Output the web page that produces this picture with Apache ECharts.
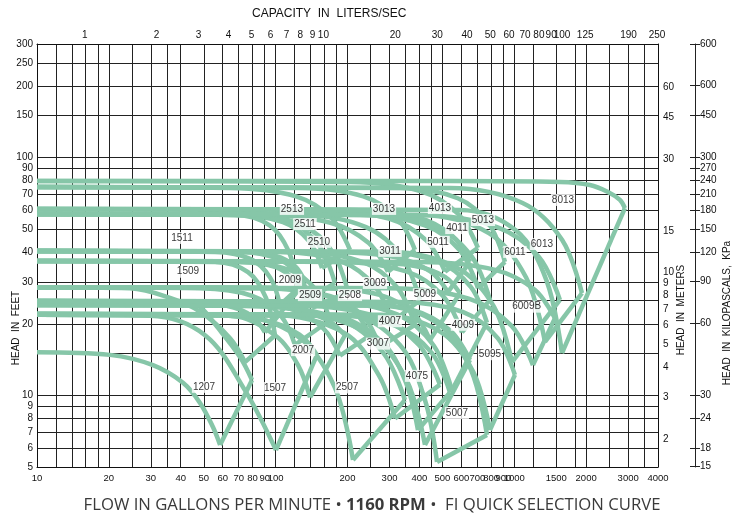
<!DOCTYPE html>
<html><head><meta charset="utf-8">
<script src="https://cdn.jsdelivr.net/npm/echarts@6/dist/echarts.min.js"></script>
<style>html,body{margin:0;padding:0;background:#fff}#c{width:735px;height:519px}</style>
</head><body><div id="c"></div>
<script>
// ---- axis ticks / grid values ----
const gpmTicks = [10,20,30,40,50,60,70,80,90,100,200,300,400,500,600,700,800,900,1000,1500,2000,3000,4000];
const gpmGrid = [10,12,14,16,18,20,25,30,35,40,50,60,70,80,90,100,120,140,160,180,200,250,300,350,400,450,500,600,700,800,900,1000,1200,1500,1800,2000,2500,3000,3500,4000];
const lpsTicks = [1,2,3,4,5,6,7,8,9,10,20,30,40,50,60,70,80,90,100,125,190,250];
const feetTicks = [5,6,7,8,9,10,20,30,40,50,60,70,80,90,100,150,200,250,300];
const feetGrid = [5,6,7,8,9,10,15,20,25,30,40,50,60,70,80,90,100,150,200,250,300];
const meterTicks = [2,3,4,5,6,7,8,9,10,15,30,45,60];
const kpaTicks = [15,18,24,30,60,90,120,150,180,210,240,270,300,450,600,897];
const kpaText = ['15','18','24','30','60','90','120','150','180','210','240','270','300','450','600','600'];

// ---- pump curves [gpm, ft]: max impeller and min impeller ----
const c2513max = [[10,75.1],[64.4,74.4],[121.7,68.6],[172.2,55.4],[204.8,40.9]];
const c2513min = [[10,57.9],[67.6,57.3],[107.3,53.5],[138,44.6],[156.4,34.3]];
const c3013max = [[10,75.1],[126.5,74.4],[233,68.6],[325,55.4],[383.5,40.9]];
const c3013min = [[10,57.9],[86,57.3],[169.6,53.2],[245.6,43.7],[295.6,33.1]];
const c4013max = [[10,79.6],[204.8,78.9],[404,72.3],[585,57.6],[704,41.7]];
const c4013min = [[10,60.8],[153.4,60.2],[297.9,55.4],[427.7,44.8],[512.2,33.1]];
const c5013max = [[10,75.1],[331.8,74.4],[579.6,67.4],[785.4,52.3],[913.7,36.4]];
const c5013min = [[10,57.9],[225.6,57.3],[422,51.9],[593.7,40.5],[704.4,28.2]];
const c6013max = [[10,75.1],[537.5,74.4],[1083,64.4],[1587,45],[1921,26.9]];
const c6013min = [[10,57.9],[402.4,57.3],[781.7,48.1],[1122,31.2],[1344,16.8]];
const c8013max = [[10,79.6],[537,79.6],[1553,78.9],[2074,76.6],[2468,71.6],[2770,66.3],[2907,61.3]];
const c8013min = [[10,60.8],[591.9,60.2],[1017,49.3],[1366,30.3],[1584,15.05]];
const c1511max = [[10,57.9],[67.6,57.3],[94.4,51.9],[113.2,40.5],[124.1,28.2]];
const c1511min = [[10,40.5],[55.7,40.1],[78.7,37.4],[95,31.2],[104.3,24]];
const c2511max = [[10,60.8],[64.4,60.2],[112.4,54.5],[152.3,42.5],[177.2,29.7]];
const c2511min = [[10,36.7],[70.9,36.4],[100.1,34.6],[120.9,30.1],[132.7,24.7]];
const c2510max = [[10,57.9],[78.1,57.3],[131.3,51.6],[174.4,39.7],[201,27.2]];
const c2510min = [[10,40.5],[70.9,40.1],[103.9,37.2],[127.9,30.8],[142,23.3]];
const c3011max = [[10,57.9],[126.5,57.3],[239,51],[338.2,38.2],[402.4,25.2]];
const c3011min = [[10,40.5],[104.3,40.1],[188.9,36.5],[261.2,28.7],[307.5,20.3]];
const c4011max = [[10,60.8],[204.8,60.2],[387.3,56.2],[548,47],[651.9,36.4]];
const c4011min = [[10,40.5],[168.9,40.1],[315.9,38.2],[444.5,33.2],[527.3,27.2]];
const c5011max = [[10,57.9],[248.4,57.3],[469.7,51],[664.7,38.2],[790.6,25.2]];
const c5011min = [[10,36.7],[186,36.4],[355.3,33.1],[506,26],[603.6,18.4]];
const c6011max = [[10,57.9],[402.4,57.3],[845.9,51],[1268,38.2],[1553,25.2]];
const c6011min = [[10,40.5],[301.3,40.1],[575.6,34.4],[819.5,23.7],[977.7,13.8]];
const c1509max = [[10,36.7],[55.7,36.4],[76.6,33],[91.1,25.7],[99.4,17.9]];
const c1509min = [[10,28.5],[24.5,28.2],[36.1,25.7],[48.2,22.5],[64.4,17.4],[74.4,13.8]];
const c2009max = [[10,40.5],[70.9,40.1],[100.1,38.6],[120.9,34.8],[132.7,30]];
const c2009min = [[10,24.95],[39.7,24.7],[62.4,23.8],[79.8,21.5],[90.2,18.4]];
const c2509max = [[10,36.7],[70.9,36.4],[114.3,33.7],[148.3,27.6],[168.9,20.7]];
const c2509min = [[10,28.5],[48.2,28.2],[79.8,26.2],[105.1,21.6],[120.5,16.3]];
const c2508max = [[10,28.5],[86,28.2],[154.1,26.6],[211.9,22.7],[248.4,17.9]];
const c2508min = [[10,24.95],[64.4,24.7],[115.4,23.1],[158.6,19.1],[186,14.7]];
const c3009max = [[10,40.5],[126.5,40.1],[233,36.3],[325,28.2],[383.5,19.8]];
const c3009min = [[10,28.5],[94.7,28.2],[169.7,26.1],[233.4,21.4],[273.6,16]];
const c4009max = [[10,40.5],[273.6,40.1],[483,36.4],[658.3,28.5],[768,20.2]];
const c4009min = [[10,24.95],[168.9,24.7],[322.7,21.9],[459.3,16.2],[548,10.5]];
const c5009max = [[10,36.7],[225.6,36.4],[383.5,35],[512.2,31.5],[591.9,26.9]];
const c5009min = [[10,28.5],[153.4,28.2],[275,26.4],[378,22.1],[443.2,17.1]];
const c6009Bmax = [[10,36.7],[402.4,36.4],[824,33.8],[1218,27.8],[1480,21.1]];
const c6009Bmin = [[10,28.5],[301.3,28.2],[644,25.5],[974,19.6],[1197,13.4]];
const c1207max = [[10,24.5],[43.8,24.2],[48.2,23.6],[56.9,19.4],[70.9,14.5],[79.6,11.6]];
const c1207min = [[10,15.2],[20.2,14.8],[30.6,13.4],[40.9,11.3],[48.2,9.3],[54.6,7.36],[58.5,6.19]];
const c1507max = [[10,22.0],[48.2,21.8],[89.7,20.7],[125.9,18],[149,14.8]];
const c1507min = [[10,21.8],[29.8,21.6],[50.6,17.9],[74.4,10.5],[100.3,5.89]];
const c2007max = [[10,24],[64.4,23.8],[118.5,23],[165.3,20.7],[195.2,17.9]];
const c2007min = [[10,21.8],[64.4,21.6],[99.4,17.9],[124.1,13.4],[139.3,9.8]];
const c2507max = [[10,24],[86,23.8],[185.6,20.9],[282.5,15.1],[348.2,9.56]];
const c2507min = [[10,22],[64.4,21.8],[123.7,17.7],[176.5,10.86],[210.9,5.35]];
const c3007max = [[10,24],[126.5,23.8],[265.8,21.4],[398.6,16.3],[488.1,11.1]];
const c3007min = [[10,22],[94.7,21.8],[193.9,18.3],[270,12.2],[316.2,8.0]];
const c4007max = [[10,24.95],[186,24.7],[370.7,22.9],[540,18.7],[651.9,14.1]];
const c4007min = [[10,22],[126.5,21.8],[245.6,18.1],[352.6,11.7],[422.3,6.19]];
const c4075max = [[10,22],[168.9,21.8],[319.3,19.6],[451.9,15.05],[537.5,10.3]];
const c4075min = [[10,21.8],[168.9,21.6],[273.6,17.1],[348.2,11.6],[394.7,7.15]];
const c5007max = [[10,24],[273.6,23.8],[483,19.9],[658.3,12.8],[768,6.82]];
const c5007min = [[10,21.8],[204.8,21.6],[331.8,16.3],[422.3,9.56],[474.3,5.25]];
const c5095max = [[10,24.95],[331.8,24.7],[611,22.4],[852,17.4],[1006,12.2]];
const c5095min = [[10,22],[273.6,21.8],[490.5,18.5],[674.3,12.5],[790.6,7.15]];

// ---- curve labels ----
const labelNames = ['1511','1509','2513','2511','2510','2009','2509','2508','3013','3011','3009','4007','3007','2007','1207','1507','2507','4075','5007','4009','5095','6009B','5009','5011','4013','4011','5013','6011','6013','8013'];
const labelGpm = [40.5,42.9,117,132.7,151.9,114.8,139.3,204.8,284.4,301.3,260.7,301.3,268.4,130.2,50.1,99.4,199.3,391,575,609,790.6,1127,422.3,479,488,575,739,1006,1305,1599];
const labelFt = [45.9,33.1,60.8,52.5,44.2,30.6,26.4,26.4,60.8,40.5,29.7,20.5,16.5,15.5,10.86,10.74,10.8,12.08,8.43,19.8,14.9,23.6,26.6,44.2,61.3,50.5,54.6,40.1,43.3,66.3];

const pumps = [
  [c2513max,c2513min],[c3013max,c3013min],[c4013max,c4013min],[c5013max,c5013min],[c6013max,c6013min],[c8013max,c8013min],
  [c1511max,c1511min],[c2511max,c2511min],[c2510max,c2510min],[c3011max,c3011min],[c4011max,c4011min],[c5011max,c5011min],[c6011max,c6011min],
  [c1509max,c1509min],[c2009max,c2009min],[c2509max,c2509min],[c2508max,c2508min],[c3009max,c3009min],[c4009max,c4009min],[c5009max,c5009min],[c6009Bmax,c6009Bmin],
  [c1207max,c1207min],[c1507max,c1507min],[c2007max,c2007min],[c2507max,c2507min],[c3007max,c3007min],[c4007max,c4007min],[c4075max,c4075min],[c5007max,c5007min],[c5095max,c5095min]
];

const GREEN = '#86c6a8';
const FONT = 'Liberation Sans';
const series = [];
pumps.forEach(function (p) {
  const mx = p[0], mn = p[1];
  [mx, mn].forEach(function (d) {
    series.push({type:'line', data:d, smooth:0.35, showSymbol:false, silent:true, z:3,
      lineStyle:{color:GREEN, width:4.5}, xAxisIndex:0, yAxisIndex:0});
  });
  series.push({type:'line', data:[mx[mx.length-1], mn[mn.length-1]], showSymbol:false, silent:true, z:3,
    lineStyle:{color:GREEN, width:4.5}, xAxisIndex:0, yAxisIndex:0});
});
series.push({type:'scatter', z:6, silent:true, symbolSize:1, itemStyle:{color:'rgba(0,0,0,0)'},
  data: labelNames.map(function (n, i) { return [labelGpm[i], labelFt[i], n]; }),
  label:{show:true, position:'inside', formatter:function (p) { return p.data[2]; },
    fontFamily:FONT, fontSize:10, color:'#000', backgroundColor:'#fff', padding:[1,1]}});

const axisLbl = {fontFamily:FONT, fontSize:10, color:'#111'};
const plain = function (v) { return String(Math.round(v)); };
const option = {
  animation:false,
  backgroundColor:'#fff',
  grid:{left:37, right:77, top:44, bottom:52, show:false},
  xAxis:[
    {type:'log', logBase:10, min:10, max:4000, position:'bottom',
      axisLine:{show:true, lineStyle:{color:'#111', width:1}},
      axisTick:{show:false, customValues:gpmGrid},
      axisLabel:{customValues:gpmTicks, margin:6, fontSize:9.5, fontFamily:FONT, color:'#111', formatter:plain},
      splitLine:{show:true, lineStyle:{color:'#222', width:1}},
      minorTick:{show:false}, minorSplitLine:{show:false}},
    {type:'log', logBase:10, min:10/15.85, max:4000/15.85, position:'top',
      axisLine:{show:true, lineStyle:{color:'#111', width:1}},
      axisTick:{show:false},
      axisLabel:Object.assign({customValues:lpsTicks, margin:4, formatter:plain}, axisLbl),
      splitLine:{show:false}}
  ],
  yAxis:[
    {type:'log', logBase:10, min:5, max:300, position:'left',
      axisLine:{show:true, lineStyle:{color:'#111', width:1}},
      axisTick:{show:false, customValues:feetGrid},
      axisLabel:Object.assign({customValues:feetTicks, margin:4, formatter:plain}, axisLbl),
      splitLine:{show:true, lineStyle:{color:'#222', width:1}}},
    {type:'log', logBase:10, min:5/3.2808, max:300/3.2808, position:'right',
      axisLine:{show:true, lineStyle:{color:'#111', width:1}},
      axisTick:{show:false},
      axisLabel:Object.assign({customValues:meterTicks, margin:5, formatter:plain}, axisLbl),
      splitLine:{show:false}},
    {type:'log', logBase:10, min:5*2.989, max:897, position:'right', offset:37,
      axisLine:{show:true, lineStyle:{color:'#222', width:1}},
      axisTick:{show:true, inside:false, length:5, customValues:kpaTicks, lineStyle:{color:'#222'}},
      axisLabel:Object.assign({customValues:kpaTicks, margin:5, formatter:function (v) {
        const i = kpaTicks.indexOf(Math.round(v)); return i >= 0 ? kpaText[i] : String(Math.round(v)); }}, axisLbl),
      splitLine:{show:false}},
    {type:'log', logBase:10, min:5*2.989, max:897, position:'right', offset:37,
      axisLine:{show:false},
      axisTick:{show:true, inside:true, length:5, customValues:kpaTicks, lineStyle:{color:'#222'}},
      axisLabel:{show:false},
      splitLine:{show:false}}
  ],
  graphic:[
    {type:'text', left:252, top:8, style:{text:'CAPACITY  IN  LITERS/SEC', fontFamily:FONT, fontSize:12, fill:'#111'}},
    {type:'text', x:16, y:328, rotation:Math.PI/2, style:{text:'HEAD  IN  FEET', fontFamily:FONT, fontSize:10, fill:'#111', align:'center', verticalAlign:'middle'}},
    {type:'text', x:681, y:310, rotation:Math.PI/2, style:{text:'HEAD  IN  METERS', fontFamily:FONT, fontSize:10, fill:'#111', align:'center', verticalAlign:'middle'}},
    {type:'text', x:727, y:313, rotation:Math.PI/2, style:{text:'HEAD  IN  KILOPASCALS,  KPa', fontFamily:FONT, fontSize:10, fill:'#111', align:'center', verticalAlign:'middle'}},
    {type:'text', x:372, y:505, style:{
      text:'{n|FLOW IN GALLONS PER MINUTE • }{b|1160 RPM}{n| •  FI QUICK SELECTION CURVE}',
      align:'center', verticalAlign:'middle',
      rich:{n:{fontFamily:'Open Sans', fontSize:16.7, fill:'#3a3a3a'}, b:{fontFamily:'Open Sans', fontSize:16.7, fontWeight:'bold', fill:'#3a3a3a'}}}}
  ],
  series:series
};
const chart = echarts.init(document.getElementById('c'), null, {renderer:'canvas'});
chart.setOption(option);
</script></body></html>
